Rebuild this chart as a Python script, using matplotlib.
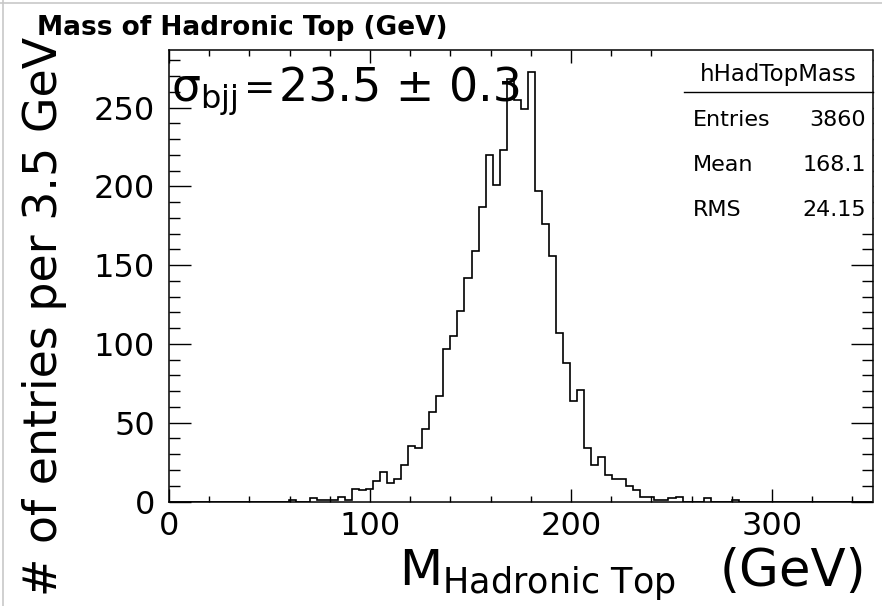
import numpy as np
import matplotlib
matplotlib.use("Agg")
import matplotlib.pyplot as plt
from matplotlib.ticker import MultipleLocator
from matplotlib.patches import Rectangle
from matplotlib.lines import Line2D

# Histogram: hadronic top mass, 100 bins of 3.5 GeV from 0 to 350 GeV
bin_lo = 0.0
bin_hi = 350.0
n_bins = 100
counts = [0] * 17 + [
    1, 0, 0, 2, 1, 1, 1, 3, 1,                      # bins 17-25
    8, 7, 8, 13, 19, 12, 14, 23, 35, 34, 46, 57, 67,  # bins 26-38
    97, 105, 121, 142, 159, 187, 220, 201, 223,     # bins 39-47
    268, 255, 249, 273,                             # bins 48-51
    197, 176, 156, 107, 88, 64, 71, 34, 23, 28,     # bins 52-61
    17, 14, 14, 10, 7, 3, 3, 1, 1, 2, 3,            # bins 62-72
    0, 0, 0, 2, 0, 0, 0, 1,                         # bins 73-80
]
counts = counts + [0] * (n_bins - len(counts))

x_ticks = [0, 100, 200, 300]
y_ticks = [0, 50, 100, 150, 200, 250]

hist_name = "hHadTopMass"
stat_names = ["Entries", "Mean", "RMS"]
stat_values = ["3860", "168.1", "24.15"]
sigma_value = "23.5"
sigma_error = "0.3"

W, H = 882, 606
fig = plt.figure(figsize=(W / 100, H / 100), dpi=100)
plt.rcParams["font.family"] = ["DejaVu Sans"]


def fx(x):
    return x / W


def fy(y):
    return 1 - y / H


ax = fig.add_axes([fx(169), fy(501.5), (872.5 - 169) / W, (501.5 - 50) / H])

edges = np.linspace(bin_lo, bin_hi, n_bins + 1)
ax.stairs(counts, edges, color="black", lw=1.2, baseline=0)

ax.set_xlim(bin_lo, bin_hi)
ax.set_ylim(0, 1.05 * max(counts))

ax.set_xticks(x_ticks)
ax.set_yticks(y_ticks)
ax.xaxis.set_minor_locator(MultipleLocator(20))
ax.yaxis.set_minor_locator(MultipleLocator(10))
ax.tick_params(which="both", direction="in", top=True, right=True, width=1.0,
               labelsize=23)
ax.tick_params(axis="x", which="major", length=9.4, pad=7)
ax.tick_params(axis="x", which="minor", length=4.6)
ax.tick_params(axis="y", which="major", length=15.5, pad=10)
ax.tick_params(axis="y", which="minor", length=7.8)
for s in ax.spines.values():
    s.set_linewidth(1.1)

# Statistics box (white panel covering the corner ticks)
box = Rectangle((fx(684), fy(227)), (872.5 - 684) / W, (227 - 48) / H,
                transform=fig.transFigure, facecolor="white", edgecolor="none",
                zorder=2.2, clip_on=False)
ax.add_patch(box)
fig.add_artist(Line2D([fx(684), fx(872.5)], [fy(92.3), fy(92.3)],
                      color="black", lw=1.0))
fig.text(fx(778), fy(80.7), hist_name, fontsize=16.5, ha="center", va="baseline")
for name, val, yb in zip(stat_names, stat_values, [125.5, 171, 216.5]):
    fig.text(fx(693), fy(yb), name, fontsize=16, ha="left", va="baseline")
    fig.text(fx(866), fy(yb), val, fontsize=16, ha="right", va="baseline")

# Resolution annotation
fig.text(fx(171), fy(101.3), r"$\mathregular{\sigma_{bjj}}$", fontsize=33,
         ha="left", va="baseline")
fig.text(fx(244), fy(99), "=", fontsize=27, ha="left", va="baseline")
fig.text(fx(279), fy(101.3), f"{sigma_value} ± {sigma_error}", fontsize=33,
         ha="left", va="baseline")

# Titles
fig.text(fx(37), fy(35), "Mass of Hadronic Top (GeV)", fontsize=19,
         fontweight="bold", ha="left", va="baseline")
fig.text(fx(399), fy(585.6), r"$\mathregular{M_{Hadronic\ Top}}$", fontsize=36,
         ha="left", va="baseline")
fig.text(fx(866), fy(585.6), "(GeV)", fontsize=37, ha="right", va="baseline")
fig.text(fx(45), fy(316), "# of entries per 3.5 GeV", fontsize=33,
         rotation=90, ha="center", va="center")

# Canvas edge lines
fig.add_artist(Line2D([fx(3), fx(3)], [0, 1], color="#c8c8c8", lw=1.2))
fig.add_artist(Line2D([0, 1], [fy(3), fy(3)], color="#c8c8c8", lw=1.2))

fig.savefig("out.png", dpi=100, facecolor="white")
